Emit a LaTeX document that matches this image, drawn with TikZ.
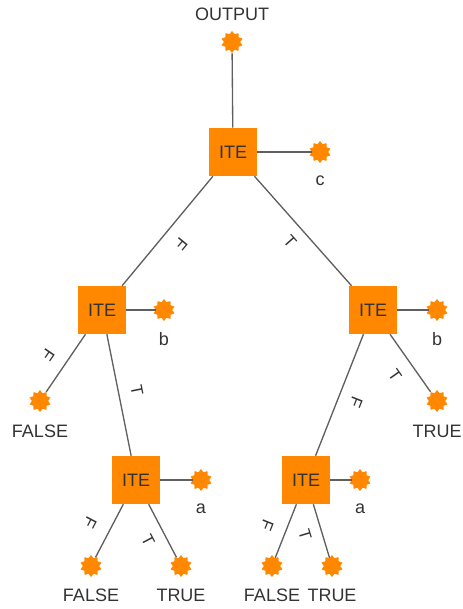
\documentclass[tikz,border=0pt]{standalone}
\usepackage{fontspec}
\setmainfont{Liberation Sans}
\usetikzlibrary{shapes.geometric}
\definecolor{ite}{HTML}{FF8800}
\definecolor{edgec}{HTML}{5F5F5F}
\definecolor{txt}{HTML}{333333}
\begin{document}
\begin{tikzpicture}[x=0.75pt,y=-0.75pt,
  itebox/.style={fill=ite, minimum size=36pt, inner sep=0pt, font=\fontsize{13.5}{16}\selectfont, text=txt},
  term/.style={star, star points=10, star point ratio=1.35, fill=ite, minimum size=16.5pt, inner sep=0pt},
  lbl/.style={font=\fontsize{13.5}{16}\selectfont, text=txt, inner sep=0pt},
  elbl/.style={font=\fontsize{12.5}{15}\selectfont, text=txt, inner sep=0pt},
  conn/.style={draw=edgec, line width=1pt}]
\useasboundingbox (0,0) rectangle (462,609);

% nodes
\node[term] (out) at (232,42) {};
\node[lbl] (outl) at (232,14) {OUTPUT};
\node[itebox] (t) at (233,152) {ITE};
\node[term] (c) at (320,152) {};
\node[lbl] (cl) at (320,181) {c};

\node[itebox] (l) at (102,310) {ITE};
\node[term] (lb) at (164,310) {};
\node[lbl] (lbl1) at (164,339) {b};
\node[term] (lf) at (40,401) {};
\node[lbl] (lfl) at (40,431) {FALSE};

\node[itebox] (r) at (373,310) {ITE};
\node[term] (rb) at (437,310) {};
\node[lbl] (rbl) at (437,339) {b};
\node[term] (rt) at (437,401) {};
\node[lbl] (rtl) at (437,431) {TRUE};

\node[itebox] (bl) at (136,480) {ITE};
\node[term] (bla) at (201,480) {};
\node[lbl] (blal) at (201,509) {a};
\node[term] (blf) at (91,566) {};
\node[lbl] (blfl) at (91,595) {FALSE};
\node[term] (blt) at (181,566) {};
\node[lbl] (bltl) at (181,595) {TRUE};

\node[itebox] (br) at (306,480) {ITE};
\node[term] (bra) at (360,480) {};
\node[lbl] (bral) at (360,509) {a};
\node[term] (brf) at (272,566) {};
\node[lbl] (brfl) at (272,595) {FALSE};
\node[term] (brt) at (332,566) {};
\node[lbl] (brtl) at (332,595) {TRUE};

% connectors
\draw[conn] (out) -- (t);
\draw[conn] (t) -- (c);
\draw[conn] (t) -- (l);
\draw[conn] (t) -- (r);
\draw[conn] (l) -- (lb);
\draw[conn] (l) -- (lf);
\draw[conn] (l) -- (bl);
\draw[conn] (r) -- (rb);
\draw[conn] (r) -- (rt);
\draw[conn] (r) -- (br);
\draw[conn] (bl) -- (bla);
\draw[conn] (bl) -- (blf);
\draw[conn] (bl) -- (blt);
\draw[conn] (br) -- (bra);
\draw[conn] (br) -- (brf);
\draw[conn] (br) -- (brt);

% edge labels
\node[elbl, rotate=-129.7] (e1) at (181,244) {F};
\node[elbl, rotate=-48.5] (e2) at (290,242) {T};
\node[elbl, rotate=-124.3] (e3) at (48,355) {F};
\node[elbl, rotate=-78.7] (e4) at (137,390) {T};
\node[elbl, rotate=-54.9] (e5) at (395,375) {T};
\node[elbl, rotate=-111.5] (e6) at (356,402) {F};
\node[elbl, rotate=-117.6] (e7) at (90,523) {F};
\node[elbl, rotate=-62.4] (e8) at (148,540) {T};
\node[elbl, rotate=-111.6] (e9) at (267,525) {F};
\node[elbl, rotate=-73.2] (e10) at (305,535) {T};
\end{tikzpicture}
\end{document}
